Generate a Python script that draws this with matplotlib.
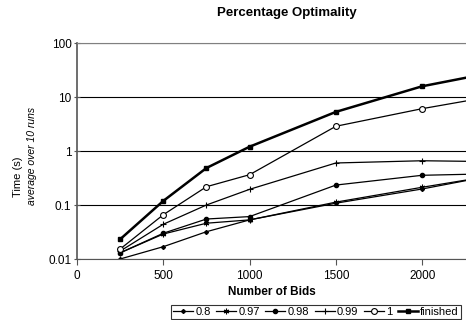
import numpy as np
import matplotlib.pyplot as plt

plt.rcParams['font.family'] = ['Liberation Sans', 'DejaVu Sans']

bids = [250, 500, 750, 1000, 1500, 2000, 2500]
t_080 = [0.010, 0.0169, 0.032, 0.053, 0.108, 0.198, 0.40]
t_097 = [0.013, 0.029, 0.046, 0.053, 0.113, 0.213, 0.39]
t_098 = [0.013, 0.030, 0.055, 0.061, 0.234, 0.355, 0.385]
t_099 = [0.014, 0.044, 0.100, 0.195, 0.60, 0.66, 0.63]
t_100 = [0.0153, 0.066, 0.218, 0.364, 2.87, 6.08, 11.6]
t_fin = [0.0232, 0.119, 0.484, 1.2, 5.3, 15.8, 32.4]

labels = ['0.8', '0.97', '0.98', '0.99', '1', 'finished']

fig = plt.figure(figsize=(4.66, 3.2), dpi=100)
ax = fig.add_axes([77/466, 61/320, 389/466, 216/320])

styles = [
    dict(marker='D', ms=2, mfc='black', lw=0.9),
    dict(marker=(6, 2, 0), ms=4, mew=0.8, lw=0.9),
    dict(marker='o', ms=3, mfc='black', lw=0.9),
    dict(marker='+', ms=5, mew=0.8, lw=0.9),
    dict(marker='o', ms=4.2, mfc='white', mew=0.8, lw=0.9),
    dict(marker='s', ms=3.2, mfc='black', lw=1.8),
]
series = [t_080, t_097, t_098, t_099, t_100, t_fin]
handles = []
for vals, st, lab in zip(series, styles, labels):
    h, = ax.plot(bids, vals, color='black', mec='black', label=lab, **st)
    handles.append(h)

ax.set_yscale('log')
ax.set_ylim(0.01, 100)
ax.set_xlim(0, 2254)
ax.set_xticks([0, 500, 1000, 1500, 2000])
ax.set_yticks([0.01, 0.1, 1, 10, 100])
ax.set_yticklabels(['0.01', '0.1', '1', '10', '100'])
ax.minorticks_off()
ax.yaxis.grid(True, color='black', lw=0.8)
ax.set_axisbelow(True)
ax.spines['right'].set_visible(False)
ax.spines['top'].set_color('#808080')
ax.spines['left'].set_color('#555555')
ax.spines['left'].set_linewidth(1.2)
ax.spines['bottom'].set_color('#555555')
ax.tick_params(labelsize=8.5, length=4, width=0.8, color='#555555', pad=2)
ax.tick_params(axis='y', direction='inout')
ax.tick_params(axis='x', pad=4)

ax.set_xlabel('Number of Bids', fontsize=8.5, fontweight='bold', labelpad=3)
fig.text(287/466, 1 - 13/320, 'Percentage Optimality',
         ha='center', va='center', fontsize=9.5, fontweight='bold')
fig.text(18/466, 1 - 177/320, 'Time (s)', rotation=90, ha='center', va='center', fontsize=8)
fig.text(32/466, 1 - 156/320, 'average over 10 runs', rotation=90, ha='center', va='center',
         fontsize=7.5, style='italic')

leg = fig.legend(handles=handles, ncol=6, loc='lower right', bbox_to_anchor=(461/466, 1/320),
                 fontsize=8, frameon=True, fancybox=False, edgecolor='black',
                 handlelength=1.8, handletextpad=0.2, columnspacing=0.5,
                 borderpad=0.2, borderaxespad=0)
leg.get_frame().set_linewidth(0.8)

fig.savefig('out.png', dpi=100)
